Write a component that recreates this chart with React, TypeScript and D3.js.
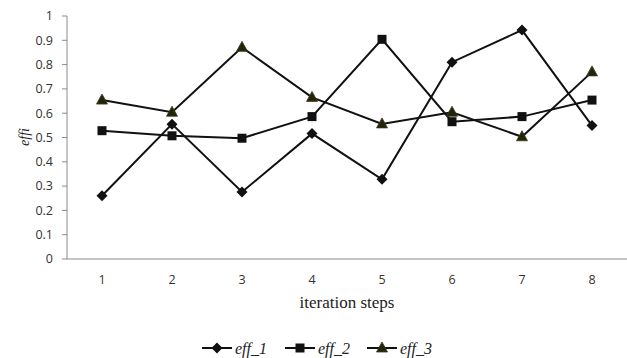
import React from "react";
import * as d3 from "d3";

const steps = ["1", "2", "3", "4", "5", "6", "7", "8"];
const eff1 = [0.26, 0.555, 0.276, 0.516, 0.328, 0.81, 0.942, 0.549];
const eff2 = [0.528, 0.507, 0.497, 0.586, 0.904, 0.565, 0.586, 0.654];
const eff3 = [0.654, 0.604, 0.871, 0.665, 0.556, 0.604, 0.503, 0.77];
const seriesNames = ["eff_1", "eff_2", "eff_3"];
const yTicks = [0, 0.1, 0.2, 0.3, 0.4, 0.5, 0.6, 0.7, 0.8, 0.9, 1];

const W = 627;
const H = 358;
const left = 67;
const right = 627;
const top = 16;
const bottom = 259;

const sansFont = "'Open Sans', 'Liberation Sans', sans-serif";
const serifFont = "'Liberation Serif', 'DejaVu Serif', serif";

function Marker({ kind, x, y }: { kind: number; x: number; y: number }) {
  if (kind === 0) {
    const r = 5.5;
    return (
      <path
        d={`M${x},${y - r}L${x + r},${y}L${x},${y + r}L${x - r},${y}Z`}
        fill="#111"
      />
    );
  }
  if (kind === 1) {
    return <rect x={x - 4.5} y={y - 4.5} width={9} height={9} fill="#111" />;
  }
  return (
    <path
      d={`M${x},${y - 6}L${x + 5.5},${y + 4}L${x - 5.5},${y + 4}Z`}
      fill="#24240c"
      stroke="#3a3a14"
      strokeWidth={0.8}
    />
  );
}

export default function App() {
  const x = d3.scaleBand<string>().domain(steps).range([left, right]);
  const y = d3.scaleLinear().domain([0, 1]).range([bottom, top]);
  const cx = (s: string) => (x(s) as number) + x.bandwidth() / 2;
  const series = [eff1, eff2, eff3];
  const line = d3
    .line<number>()
    .x((_, i) => cx(steps[i]))
    .y((v) => y(v));

  const legendX = [202, 285, 367];
  const legendY = 348;

  return (
    <svg
      width={W}
      height={H}
      style={{ position: "absolute", left: 0, top: 0, background: "#fff" }}
    >
      {/* y axis */}
      <line x1={left} x2={left} y1={top} y2={bottom} stroke="#8a8a8a" strokeWidth={1} />
      {yTicks.map((t) => (
        <g key={t}>
          <line x1={left - 5} x2={left} y1={y(t)} y2={y(t)} stroke="#8a8a8a" />
          <text
            x={left - 14}
            y={y(t)}
            dy="0.35em"
            textAnchor="end"
            fontFamily={sansFont}
            fontSize={12.5}
            fill="#333"
          >
            {t === 0 || t === 1 ? String(t) : t.toFixed(1)}
          </text>
        </g>
      ))}
      {/* x axis */}
      <line x1={left} x2={right} y1={bottom} y2={bottom} stroke="#8a8a8a" strokeWidth={1} />
      {steps.map((s) => (
        <text
          key={s}
          x={cx(s)}
          y={284}
          textAnchor="middle"
          fontFamily={sansFont}
          fontSize={12.5}
          fill="#333"
        >
          {s}
        </text>
      ))}
      <text
        x={347}
        y={308}
        textAnchor="middle"
        fontFamily={serifFont}
        fontSize={17}
        fill="#222"
      >
        iteration steps
      </text>
      <text
        transform={`translate(29,${137}) rotate(-90)`}
        textAnchor="middle"
        fontFamily={serifFont}
        fontStyle="italic"
        fontSize={14}
        fill="#222"
      >
        effi
      </text>

      {series.map((vals, k) => (
        <g key={k}>
          <path d={line(vals) || ""} fill="none" stroke="#111" strokeWidth={2} />
          {vals.map((v, i) => (
            <Marker key={i} kind={k} x={cx(steps[i])} y={y(v)} />
          ))}
        </g>
      ))}

      {/* legend */}
      {seriesNames.map((name, k) => (
        <g key={name}>
          <line
            x1={legendX[k]}
            x2={legendX[k] + 30}
            y1={legendY}
            y2={legendY}
            stroke="#111"
            strokeWidth={2}
          />
          <Marker kind={k} x={legendX[k] + 15} y={legendY} />
          <text
            x={legendX[k] + 33}
            y={legendY}
            dy="0.35em"
            fontFamily={serifFont}
            fontStyle="italic"
            fontSize={16}
            fill="#222"
          >
            {name}
          </text>
        </g>
      ))}
    </svg>
  );
}
